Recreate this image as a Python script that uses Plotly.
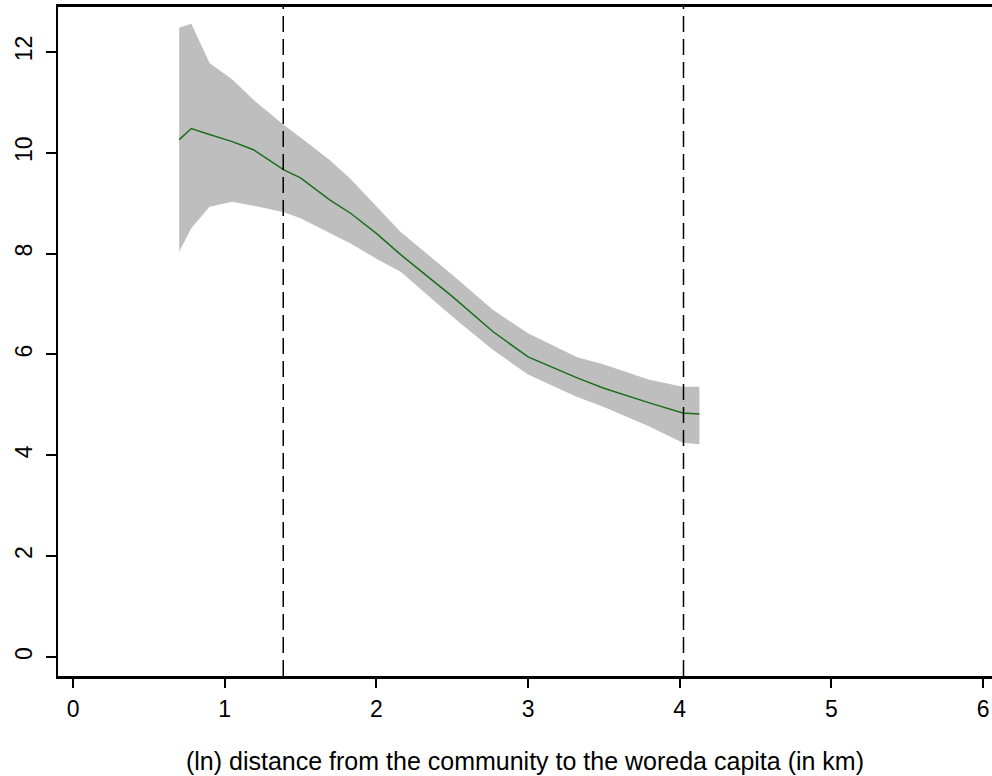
import plotly.graph_objects as go

# Data
x_vals = [0.70, 0.78, 0.90, 1.05, 1.19, 1.39, 1.50, 1.69, 1.83, 2.00, 2.16, 2.50, 2.77, 3.00, 3.32, 3.50, 3.80, 4.02, 4.13]
mean_vals = [10.26, 10.48, 10.36, 10.22, 10.06, 9.66, 9.50, 9.07, 8.80, 8.40, 7.98, 7.15, 6.45, 5.95, 5.54, 5.33, 5.04, 4.84, 4.82]
upper_vals = [12.48, 12.56, 11.78, 11.45, 11.05, 10.55, 10.30, 9.86, 9.48, 8.95, 8.43, 7.58, 6.88, 6.42, 5.95, 5.80, 5.50, 5.36, 5.36]
lower_vals = [8.04, 8.50, 8.93, 9.03, 8.95, 8.82, 8.70, 8.41, 8.20, 7.90, 7.64, 6.75, 6.09, 5.60, 5.16, 4.96, 4.57, 4.25, 4.22]
cutoffs = [1.386, 4.025]
x_ticks = [0, 1, 2, 3, 4, 5, 6]
y_ticks = [0, 2, 4, 6, 8, 10, 12]
x_title = "(ln) distance from the community to the woreda capita (in km)"

fig = go.Figure()
fig.add_trace(go.Scatter(x=x_vals, y=upper_vals, mode="lines", line=dict(width=0),
                         showlegend=False, hoverinfo="skip"))
fig.add_trace(go.Scatter(x=x_vals, y=lower_vals, mode="lines", line=dict(width=0),
                         fill="tonexty", fillcolor="#bebebe", showlegend=False, hoverinfo="skip"))
fig.add_trace(go.Scatter(x=x_vals, y=mean_vals, mode="lines", line=dict(color="#1a6e1a", width=1.5),
                         showlegend=False))

for c in cutoffs:
    fig.add_shape(type="line", x0=c, x1=c, y0=0, y1=1, xref="x", yref="paper",
                  line=dict(color="black", width=1.5, dash="16px,7px"))

font_family = "Liberation Sans, Arial, sans-serif"
fig.update_layout(
    width=992, height=776,
    margin=dict(l=58, r=0, t=7, b=100),
    paper_bgcolor="white", plot_bgcolor="white",
    font=dict(family=font_family, color="black"),
    xaxis=dict(range=[-0.099, 6.059], tickvals=x_ticks, ticks="outside", ticklen=9, tickwidth=1.5,
               tickcolor="black", showline=True, linecolor="black", linewidth=2.5, mirror=True,
               showgrid=False, zeroline=False, tickfont=dict(size=23), ticklabeloverflow="allow",
               ticklabelstandoff=2,
               title=dict(text=x_title, font=dict(size=25), standoff=32)),
    yaxis=dict(range=[-0.377, 12.89], tickvals=y_ticks, ticks="outside", ticklen=10, tickwidth=1.5,
               tickcolor="black", showline=True, linecolor="black", linewidth=2,
               showgrid=False, zeroline=False, tickfont=dict(size=23), tickangle=-90,
               ticklabelstandoff=5),
)
fig.write_html("out.html", config={"displayModeBar": False},
               post_script="document.body.style.margin='0';document.body.style.padding='0';")
